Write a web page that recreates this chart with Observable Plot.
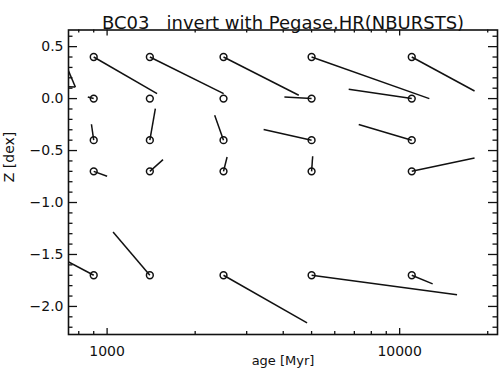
<!DOCTYPE html>
<html><head><meta charset="utf-8">
<script src="https://cdn.jsdelivr.net/npm/d3@7"></script>
<script src="https://cdn.jsdelivr.net/npm/@observablehq/plot@0.6"></script>
<style>
html,body{margin:0;padding:0;overflow:hidden;background:#fff}
svg text{white-space:pre}
</style>
</head><body><div id="chart"></div>
<script>
// grid of model parameters (circles)
const ages = [900, 1400, 2500, 5000, 11000];
const metallicities = [0.4, 0.0, -0.4, -0.7, -1.7];
// inverted values (line end points), one row per metallicity
const invertedAge = [
  [1482, 2503, 4520, 12630, 18030],
  [859, 1400, 2500, 4037, 6696],
  [884, 1462, 2332, 3428, 7245],
  [1000, 1553, 2571, 5043, 18030],
  [680, 1048, 4826, 15710, 12967]
];
const invertedZ = [
  [0.048, 0.048, 0.032, 0.0, 0.073],
  [0.015, 0.0, 0.0, 0.015, 0.09],
  [-0.247, -0.096, -0.16, -0.298, -0.25],
  [-0.747, -0.587, -0.562, -0.555, -0.571],
  [-1.517, -1.283, -2.158, -1.888, -1.783]
];
// stray segments entering from the left edge
const strayAge1 = [680, 680];
const strayZ1 = [0.50, 0.118];
const strayAge2 = [779, 779];
const strayZ2 = [0.112, 0.112];

const titleText = "BC03   invert with Pegase.HR(NBURSTS)";
const xLabel = "age [Myr]";
const yLabel = "Z [dex]";
const xMajorTicks = [1000, 10000];
const xMinorTicks = [800, 900, 2000, 3000, 4000, 5000, 6000, 7000, 8000, 9000, 20000];
const yMajorTicks = [-2.0, -1.5, -1.0, -0.5, 0.0, 0.5];
const yMinorTicks = [-2.2, -2.1, -1.9, -1.8, -1.7, -1.6, -1.4, -1.3, -1.2, -1.1, -0.9, -0.8, -0.7, -0.6,
  -0.4, -0.3, -0.2, -0.1, 0.1, 0.2, 0.3, 0.4, 0.6];

const points = [];
metallicities.forEach((z, i) => ages.forEach((a, j) => {
  points.push({age: a, z, age2: invertedAge[i][j], z2: invertedZ[i][j]});
}));
const strays = strayAge1.map((a, i) => ({age: a, z: strayZ1[i], age2: strayAge2[i], z2: strayZ2[i]}));

const W = 501, H = 380, mL = 68, mR = 4, mT = 29.5, mB = 46;
const pw = W - mL - mR, ph = H - mT - mB;
const ink = "#111";

const chart = Plot.plot({
  width: W, height: H,
  marginLeft: mL, marginRight: mR, marginTop: mT, marginBottom: mB,
  style: {fontFamily: "DejaVu Sans", fontSize: "14px", color: "#111", background: "#fff"},
  x: {type: "log", domain: [738, 21600]},
  y: {domain: [-2.27, 0.66]},
  marks: [
    Plot.link(points, {x1: "age", y1: "z", x2: "age2", y2: "z2", stroke: ink, strokeWidth: 1.5, clip: true}),
    Plot.link(strays, {x1: "age", y1: "z", x2: "age2", y2: "z2", stroke: ink, strokeWidth: 1.5, clip: true}),
    Plot.dot(points, {x: "age", y: "z", r: 3.4, stroke: ink, strokeWidth: 1.5, fill: "none"}),
    Plot.frame({stroke: ink, strokeWidth: 1.6}),
    // inward ticks, bottom & top
    Plot.tickX(xMajorTicks, {x: d => d, insetTop: ph - 6, stroke: ink, strokeWidth: 1.3}),
    Plot.tickX(xMinorTicks, {x: d => d, insetTop: ph - 3, stroke: ink, strokeWidth: 1.3}),
    Plot.tickX(xMajorTicks, {x: d => d, insetBottom: ph - 6, stroke: ink, strokeWidth: 1.3}),
    Plot.tickX(xMinorTicks, {x: d => d, insetBottom: ph - 3, stroke: ink, strokeWidth: 1.3}),
    // inward ticks, left & right
    Plot.tickY(yMajorTicks, {y: d => d, insetRight: pw - 9, stroke: ink, strokeWidth: 1.3}),
    Plot.tickY(yMinorTicks, {y: d => d, insetRight: pw - 4.5, stroke: ink, strokeWidth: 1.3}),
    Plot.tickY(yMajorTicks, {y: d => d, insetLeft: pw - 9, stroke: ink, strokeWidth: 1.3}),
    Plot.tickY(yMinorTicks, {y: d => d, insetLeft: pw - 4.5, stroke: ink, strokeWidth: 1.3}),
    Plot.axisX(xMajorTicks, {tickSize: 0, tickPadding: 12, tickFormat: d => String(d), label: null}),
    Plot.axisY(yMajorTicks, {tickSize: 0, tickPadding: 5, tickFormat: d3.format(".1f"), label: null}),
    Plot.text([yLabel], {text: d => d, frameAnchor: "left", dx: -59, rotate: -90, fontSize: 14}),
    Plot.text([xLabel], {text: d => d, frameAnchor: "bottom", dy: 30, fontSize: 13}),
    Plot.text([titleText], {text: d => d, frameAnchor: "top", dy: -13.7, fontSize: 18})
  ]
});
document.getElementById("chart").appendChild(chart);
</script>
</body></html>
